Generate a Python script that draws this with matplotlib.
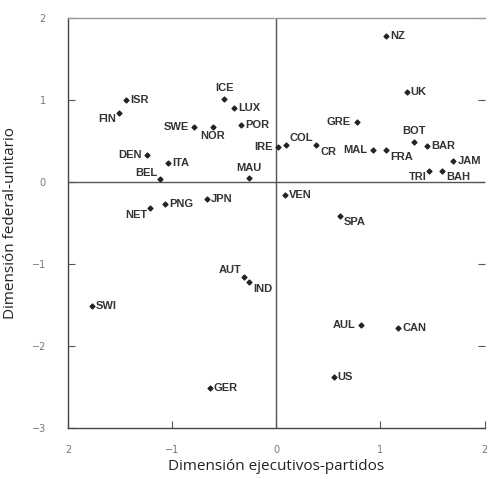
import matplotlib
matplotlib.use("Agg")
import matplotlib.pyplot as plt

countries = ["NZ", "UK", "GRE", "IRE", "COL", "CR", "MAL", "FRA", "BOT", "BAR",
             "JAM", "TRI", "BAH", "VEN", "SPA", "AUL", "CAN", "US",
             "ISR", "FIN", "ICE", "LUX", "SWE", "NOR", "POR", "DEN", "ITA",
             "BEL", "MAU", "JPN", "PNG", "NET", "AUT", "IND", "SWI", "GER"]
exec_party = [1.05, 1.25, 0.77, 0.02, 0.09, 0.38, 0.93, 1.05, 1.32, 1.45,
              1.70, 1.47, 1.59, 0.08, 0.61, 0.81, 1.17, 0.55,
              -1.44, -1.51, -0.50, -0.41, -0.79, -0.61, -0.34, -1.24, -1.04,
              -1.12, -0.26, -0.67, -1.07, -1.21, -0.31, -0.26, -1.77, -0.64]
fed_unit = [1.78, 1.10, 0.74, 0.43, 0.45, 0.45, 0.39, 0.39, 0.49, 0.44,
            0.26, 0.14, 0.14, -0.16, -0.41, -1.74, -1.78, -2.38,
            1.00, 0.85, 1.02, 0.90, 0.67, 0.67, 0.70, 0.33, 0.23,
            0.04, 0.05, -0.20, -0.27, -0.32, -1.15, -1.22, -1.51, -2.51]

# where each label sits relative to its point
label_pos = {
    "NZ": "r", "UK": "r", "GRE": "l", "IRE": "l", "COL": "ur", "CR": "br",
    "MAL": "l", "FRA": "br", "BOT": "u", "BAR": "r", "JAM": "r", "TRI": "bl",
    "BAH": "br", "VEN": "r", "SPA": "br", "AUL": "l", "CAN": "r", "US": "r",
    "ISR": "r", "FIN": "bl", "ICE": "u", "LUX": "r", "SWE": "l", "NOR": "b",
    "POR": "r", "DEN": "l", "ITA": "r", "BEL": "ul", "MAU": "u", "JPN": "r",
    "PNG": "r", "NET": "bl", "AUT": "ul", "IND": "br", "SWI": "r", "GER": "r",
}
offsets = {
    "r": ((3, 0), "left", "center"),
    "l": ((-4, 0), "right", "center"),
    "u": ((0, 4), "center", "bottom"),
    "b": ((0, -3), "center", "top"),
    "ur": ((3, 2), "left", "bottom"),
    "ul": ((-2, 1), "right", "bottom"),
    "br": ((3, -1), "left", "top"),
    "bl": ((-2, -1), "right", "top"),
}

fig = plt.figure(figsize=(4.9, 4.79), dpi=100)
ax = fig.add_axes([0.139, 0.106, 0.85, 0.856])

ax.scatter(exec_party, fed_unit, s=6, marker="D", color="#222222", zorder=3)
for name, x, y in zip(countries, exec_party, fed_unit):
    off, ha, va = offsets[label_pos[name]]
    ax.annotate(name, (x, y), xytext=off, textcoords="offset points",
                ha=ha, va=va, fontsize=8, fontweight="bold",
                color="#333333", family="Liberation Sans")

ax.axhline(0, color="#555555", lw=1.0, zorder=1)
ax.axvline(0, color="#555555", lw=1.0, zorder=1)

ax.set_xlim(-2, 2)
ax.set_ylim(-3, 2)
ax.set_xticks([-2, -1, 0, 1, 2])
ax.set_yticks([-3, -2, -1, 0, 1, 2])
ax.set_xticklabels(["2", "\u22121", "0", "1", "2"])
ax.set_yticklabels(["\u22123", "\u22122", "\u22121", "0", "1", "2"])

ax.spines["right"].set_visible(False)
for s in ["top", "bottom", "left"]:
    ax.spines[s].set_color("#444444")
    ax.spines[s].set_linewidth(1.0)
ax.spines["top"].set_color("#999999")

ax.tick_params(axis="both", direction="in", length=5, color="#555555",
               labelsize=7, labelcolor="#777777")
ax.tick_params(axis="x", pad=12)
ax.tick_params(axis="y", right=True, left=True, pad=16)

ax.set_xlabel("Dimensión ejecutivos-partidos", fontsize=11, family="Open Sans",
              color="#222222", labelpad=3)
ax.set_ylabel("Dimensión federal-unitario", fontsize=11, family="Open Sans",
              color="#222222", labelpad=10)

fig.savefig("out.png", dpi=100)
